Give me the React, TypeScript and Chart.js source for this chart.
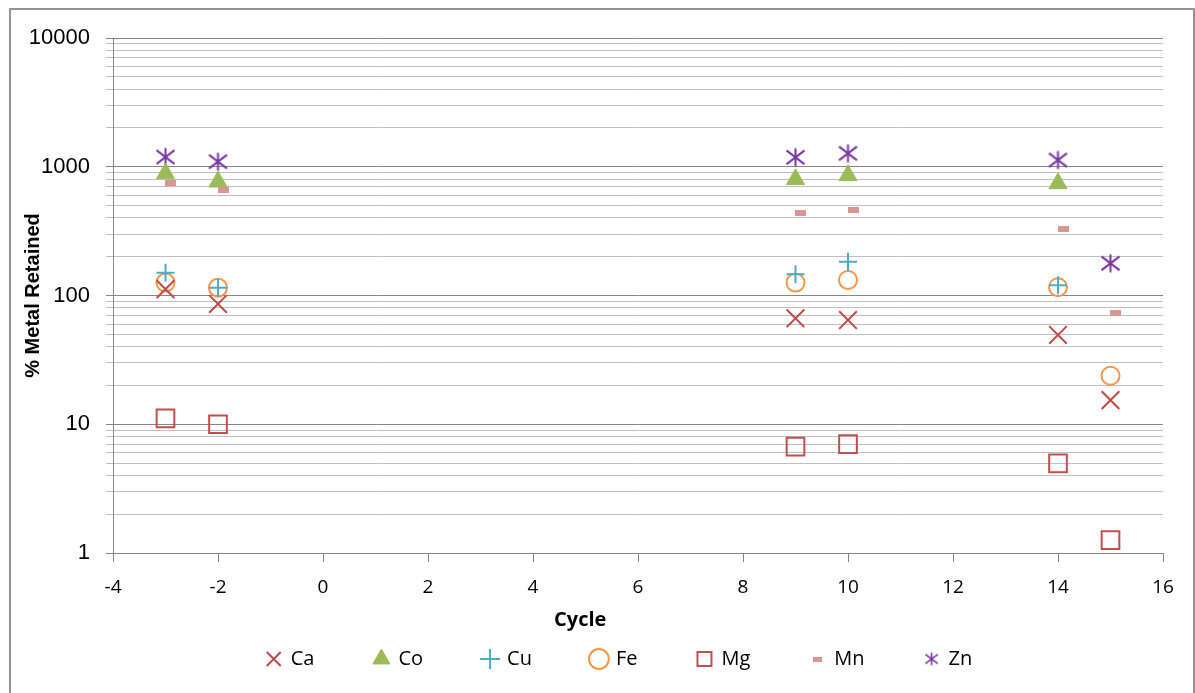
import React, { useEffect, useRef } from 'react';
import { Chart, registerables } from 'chart.js';

Chart.register(...registerables);

// ---- data ----
const cycles = [-3, -2, 9, 10, 14, 15];
const mnCycles = [-2.9, -1.9, 9.1, 10.1, 14.1, 15.1];
const caValues = [112, 86, 66.5, 64.5, 49.4, 15.4];
const coValues = [885, 765, 798, 857, 742, null];
const cuValues = [150, 115, 146, 183, 120, null];
const feValues = [126, 115, 126, 132, 116, 23.8];
const mgValues = [11.1, 10, 6.7, 7.0, 4.97, 1.26];
const mnValues = [748, 660, 440, 461, 327, 72.8];
const znValues = [1190, 1095, 1184, 1271, 1128, 178];

const yMajorTicks = [1, 10, 100, 1000, 10000];
const yMinorMultipliers = [2, 3, 4, 5, 6, 7, 8, 9];
const xTickStep = 2;
const xMin = -4;
const xMax = 16;

const yTicks: number[] = [];
yMajorTicks.forEach((m, i) => {
  yTicks.push(m);
  if (i < yMajorTicks.length - 1) yMinorMultipliers.forEach((k) => yTicks.push(m * k));
});
const isMajor = (v: number) => yMajorTicks.includes(v);

const toPoints = (xs: number[], ys: (number | null)[]) =>
  xs.map((x, i) => ({ x, y: ys[i] })).filter((p) => p.y !== null);

function makeAsterisk(size: number, color: string, lw: number) {
  const c = document.createElement('canvas');
  c.width = size;
  c.height = size;
  const g = c.getContext('2d')!;
  g.strokeStyle = color;
  g.lineWidth = lw;
  const m = size / 2;
  const e = lw / 2 + 0.5;
  g.beginPath();
  g.moveTo(m, e);
  g.lineTo(m, size - e);
  g.moveTo(e, e + size * 0.1);
  g.lineTo(size - e, size - e - size * 0.1);
  g.moveTo(size - e, e + size * 0.1);
  g.lineTo(e, size - e - size * 0.1);
  g.stroke();
  return c;
}

function makeDash(w: number, h: number, color: string) {
  const c = document.createElement('canvas');
  c.width = w;
  c.height = h;
  const g = c.getContext('2d')!;
  g.fillStyle = color;
  g.fillRect(0, 0, w, h);
  return c;
}

const axisTitles = {
  id: 'axisTitles',
  afterDraw(chart: any) {
    const { ctx, chartArea } = chart;
    ctx.save();
    ctx.fillStyle = '#000';
    ctx.textAlign = 'center';
    ctx.textBaseline = 'middle';
    ctx.font = 'bold 20px "Open Sans"';
    ctx.fillText('Cycle', chartArea.left + chartArea.width * 0.445, chartArea.bottom + 67);
    ctx.translate(33, (chartArea.top + chartArea.bottom) / 2);
    ctx.rotate(-Math.PI / 2);
    ctx.font = 'bold 20px "Liberation Sans"';
    ctx.fillText('% Metal Retained', 0, 0);
    ctx.restore();
  },
};

const legendShift = {
  id: 'legendShift',
  afterLayout(chart: any) {
    const lg = chart.legend;
    if (lg) {
      lg.left += 32;
      lg.right += 32;
      lg.top -= 14;
      lg.bottom -= 14;
    }
  },
};

export default function App() {
  const ref = useRef<HTMLCanvasElement | null>(null);

  useEffect(() => {
    document.documentElement.style.overflow = 'hidden';
    document.body.style.overflow = 'hidden';
    const canvas = ref.current!;
    const znColor = '#7a35a6';
    const mnColor = '#d99694';
    const znPoint = makeAsterisk(21, znColor, 2);
    const znLegend = makeAsterisk(15, znColor, 1.6);
    const mnPoint = makeDash(11, 6, mnColor);
    const mnLegend = makeDash(9, 5, mnColor);

    const chart = new Chart(canvas, {
      type: 'scatter',
      data: {
        datasets: [
          { label: 'Ca', data: toPoints(cycles, caValues), pointStyle: 'crossRot', radius: 12.5, borderWidth: 2, borderColor: '#be4b48', backgroundColor: 'transparent' },
          { label: 'Co', data: toPoints(cycles, coValues), pointStyle: 'triangle', radius: 10.5, borderWidth: 1, borderColor: '#9bbb59', backgroundColor: '#9bbb59' },
          { label: 'Cu', data: toPoints(cycles, cuValues), pointStyle: 'cross', radius: 9, borderWidth: 2, borderColor: '#4bacc6', backgroundColor: 'transparent' },
          { label: 'Fe', data: toPoints(cycles, feValues), pointStyle: 'circle', radius: 9, borderWidth: 2, borderColor: '#f79646', backgroundColor: 'transparent' },
          { label: 'Mg', data: toPoints(cycles, mgValues), pointStyle: 'rect', radius: 12.5, borderWidth: 2, borderColor: '#c0504d', backgroundColor: 'transparent' },
          { label: 'Mn', data: toPoints(mnCycles, mnValues), pointStyle: mnPoint as any, radius: 6, borderWidth: 0, borderColor: mnColor, backgroundColor: mnColor },
          { label: 'Zn', data: toPoints(cycles, znValues), pointStyle: znPoint as any, radius: 10, borderWidth: 2, borderColor: znColor, backgroundColor: 'transparent' },
        ] as any,
      },
      options: {
        responsive: false,
        animation: false,
        events: [],
        layout: { padding: { left: 12, right: 32, top: 38, bottom: 0 } },
        plugins: {
          tooltip: { enabled: false },
          legend: {
            position: 'bottom',
            labels: {
              usePointStyle: true,
              boxWidth: 14,
              boxHeight: 14,
              padding: 60,
              color: '#000',
              font: { family: '"Open Sans"', size: 20 },
              generateLabels: (ch: any) => {
                const items = (Chart.defaults.plugins.legend.labels as any).generateLabels(ch);
                return items.map((it: any) =>
                  it.text === 'Zn' ? { ...it, pointStyle: znLegend } : it.text === 'Mn' ? { ...it, pointStyle: mnLegend } : it
                );
              },
            },
          },
        },
        scales: {
          x: {
            type: 'linear',
            min: xMin,
            max: xMax,
            ticks: { stepSize: xTickStep, color: '#000', font: { family: '"Open Sans"', size: 19 }, padding: 14 },
            grid: { drawOnChartArea: false, drawTicks: true, tickLength: 9, color: '#868686' },
            border: { color: '#868686' },
            afterFit: (s: any) => {
              s.height = 50;
            },
          },
          y: {
            type: 'logarithmic',
            min: 1,
            max: 10000,
            afterBuildTicks: (s: any) => {
              s.ticks = yTicks.map((v) => ({ value: v, major: false }));
            },
            ticks: {
              autoSkip: false,
              color: '#000',
              font: { family: '"Liberation Sans"', size: 22 },
              padding: 16,
              callback: (v: any) => (isMajor(Number(v)) ? String(v) : ''),
            },
            grid: {
              color: (ctx: any) => (ctx.tick && isMajor(ctx.tick.value) ? '#868686' : '#c0c0c0'),
              tickLength: 7,
              lineWidth: 1,
            },
            border: { color: '#868686' },
            afterFit: (s: any) => {
              s.width = 101;
            },
          },
        },
      },
      plugins: [axisTitles, legendShift],
    } as any);
    return () => chart.destroy();
  }, []);

  return (
    <div style={{ position: 'fixed', left: 0, top: 0, width: 1195, height: 693, overflow: 'hidden', background: '#fff' }}>
      <div
        style={{
          position: 'absolute',
          left: 9,
          top: 8,
          width: 1186,
          height: 720,
          boxSizing: 'border-box',
          border: '2px solid #949494',
        }}
      />
      <canvas ref={ref} width={1195} height={693} style={{ position: 'absolute', left: 0, top: 0 }} />
    </div>
  );
}
